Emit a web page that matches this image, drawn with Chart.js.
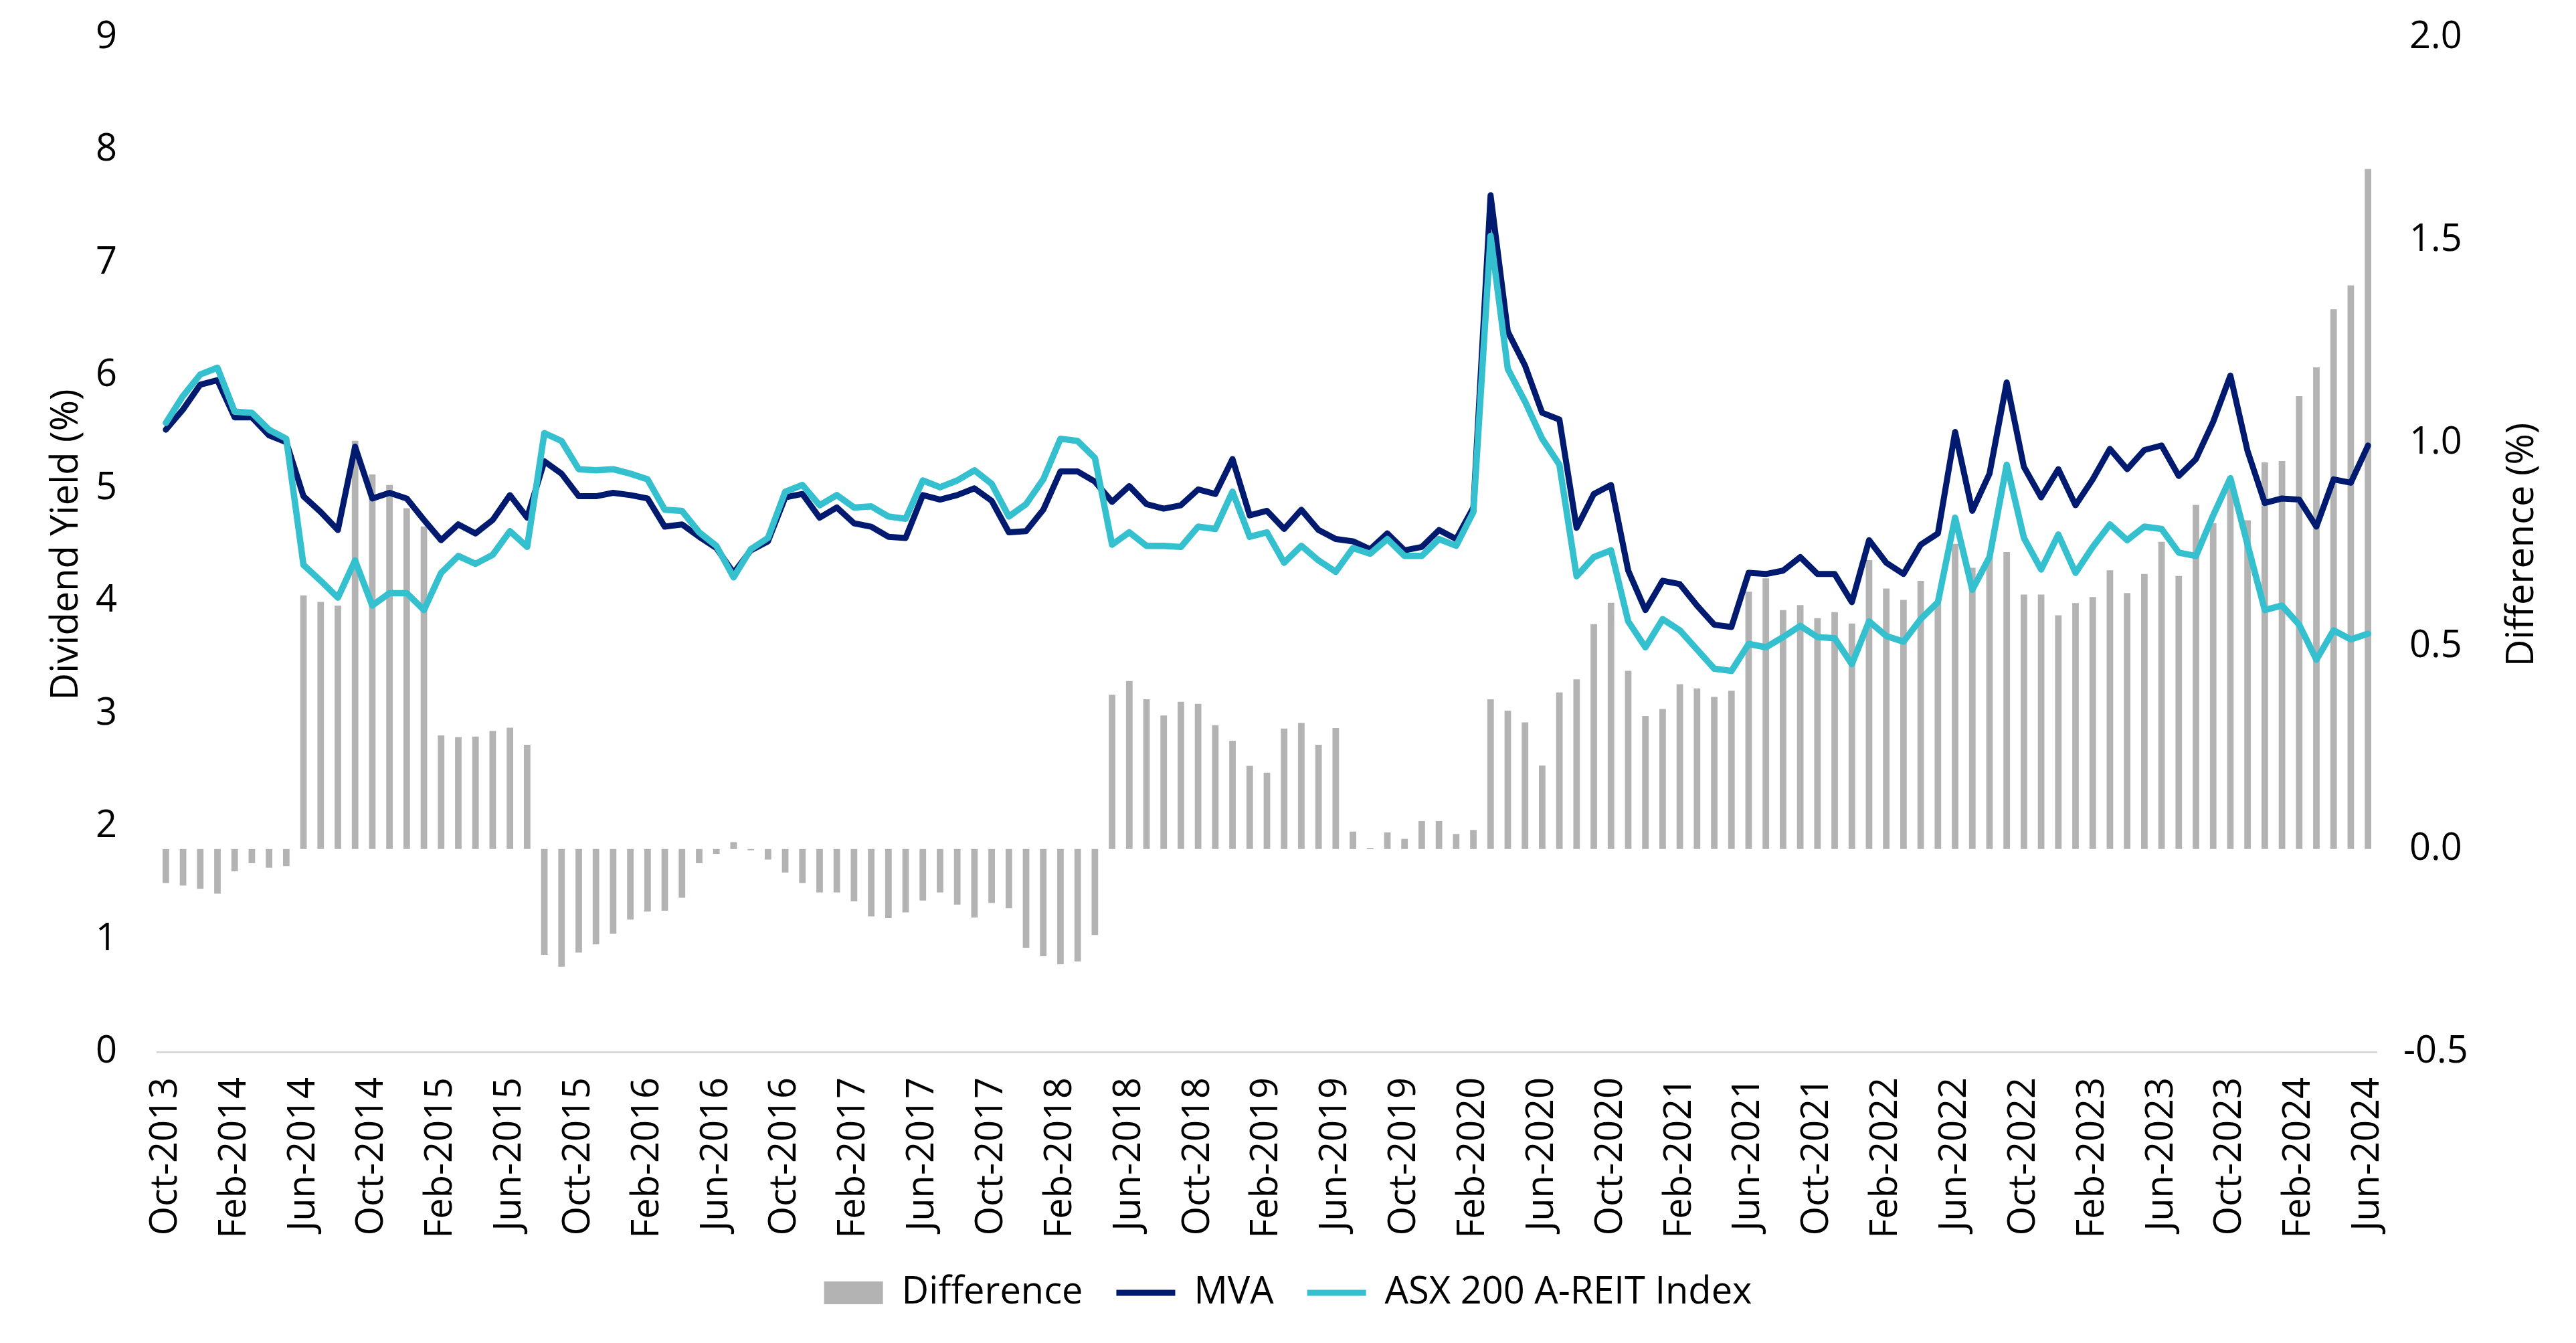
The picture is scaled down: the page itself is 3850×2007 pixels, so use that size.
<!DOCTYPE html>
<html lang="en">

<head>
    <meta charset="UTF-8">
    <title>Dividend yield - MVA vs ASX 200 A-REIT</title>
    <style>
        * {
            margin: 0;
            padding: 0;
        }

        body {
            background: #fff;
        }

        canvas {
            display: block;
        }
    </style>
</head>

<body>
    <canvas id="chart" width="3850" height="2007"></canvas>
    <script src="https://cdn.jsdelivr.net/npm/chart.js@4.4.1/dist/chart.umd.min.js"></script>
    <script>
        // monthly points, Oct-2013 .. Jun-2024
        var months = [
            "Oct-2013", "Nov-2013", "Dec-2013",
            "Jan-2014", "Feb-2014", "Mar-2014", "Apr-2014", "May-2014", "Jun-2014", "Jul-2014", "Aug-2014", "Sep-2014", "Oct-2014", "Nov-2014", "Dec-2014",
            "Jan-2015", "Feb-2015", "Mar-2015", "Apr-2015", "May-2015", "Jun-2015", "Jul-2015", "Aug-2015", "Sep-2015", "Oct-2015", "Nov-2015", "Dec-2015",
            "Jan-2016", "Feb-2016", "Mar-2016", "Apr-2016", "May-2016", "Jun-2016", "Jul-2016", "Aug-2016", "Sep-2016", "Oct-2016", "Nov-2016", "Dec-2016",
            "Jan-2017", "Feb-2017", "Mar-2017", "Apr-2017", "May-2017", "Jun-2017", "Jul-2017", "Aug-2017", "Sep-2017", "Oct-2017", "Nov-2017", "Dec-2017",
            "Jan-2018", "Feb-2018", "Mar-2018", "Apr-2018", "May-2018", "Jun-2018", "Jul-2018", "Aug-2018", "Sep-2018", "Oct-2018", "Nov-2018", "Dec-2018",
            "Jan-2019", "Feb-2019", "Mar-2019", "Apr-2019", "May-2019", "Jun-2019", "Jul-2019", "Aug-2019", "Sep-2019", "Oct-2019", "Nov-2019", "Dec-2019",
            "Jan-2020", "Feb-2020", "Mar-2020", "Apr-2020", "May-2020", "Jun-2020", "Jul-2020", "Aug-2020", "Sep-2020", "Oct-2020", "Nov-2020", "Dec-2020",
            "Jan-2021", "Feb-2021", "Mar-2021", "Apr-2021", "May-2021", "Jun-2021", "Jul-2021", "Aug-2021", "Sep-2021", "Oct-2021", "Nov-2021", "Dec-2021",
            "Jan-2022", "Feb-2022", "Mar-2022", "Apr-2022", "May-2022", "Jun-2022", "Jul-2022", "Aug-2022", "Sep-2022", "Oct-2022", "Nov-2022", "Dec-2022",
            "Jan-2023", "Feb-2023", "Mar-2023", "Apr-2023", "May-2023", "Jun-2023", "Jul-2023", "Aug-2023", "Sep-2023", "Oct-2023", "Nov-2023", "Dec-2023",
            "Jan-2024", "Feb-2024", "Mar-2024", "Apr-2024", "May-2024", "Jun-2024"
        ]
        var labelEvery = 4; // only every 4th month gets a tick label

        // dividend yield (%), left axis
        var mva = [
            5.52, 5.70, 5.92,
            5.96, 5.63, 5.63, 5.47, 5.41, 4.93, 4.79, 4.63, 5.37, 4.91, 4.96, 4.91,
            4.72, 4.54, 4.68, 4.60, 4.72, 4.94, 4.74, 5.24, 5.13, 4.93, 4.93, 4.96,
            4.94, 4.91, 4.66, 4.68, 4.57, 4.47, 4.25, 4.45, 4.53, 4.92, 4.95, 4.74,
            4.83, 4.69, 4.66, 4.57, 4.56, 4.94, 4.90, 4.94, 5.00, 4.89, 4.61, 4.62,
            4.81, 5.15, 5.15, 5.06, 4.88, 5.02, 4.86, 4.82, 4.85, 4.99, 4.95, 5.26,
            4.76, 4.80, 4.64, 4.81, 4.63, 4.55, 4.53, 4.46, 4.60, 4.45, 4.48, 4.63,
            4.55, 4.83, 7.60, 6.39, 6.09, 5.67, 5.61, 4.65, 4.95, 5.03, 4.27, 3.92,
            4.18, 4.15, 3.96, 3.79, 3.77, 4.25, 4.24, 4.27, 4.39, 4.24, 4.24, 3.99,
            4.54, 4.34, 4.24, 4.50, 4.60, 5.50, 4.80, 5.13, 5.94, 5.19, 4.92, 5.17,
            4.85, 5.08, 5.35, 5.17, 5.34, 5.38, 5.11, 5.26, 5.59, 6.00, 5.33, 4.87,
            4.91, 4.90, 4.66, 5.08, 5.05, 5.38
        ]
        var asx = [
            5.58, 5.82, 6.01,
            6.07, 5.68, 5.67, 5.52, 5.44, 4.32, 4.18, 4.03, 4.36, 3.96, 4.07, 4.07,
            3.92, 4.25, 4.40, 4.33, 4.41, 4.62, 4.48, 5.49, 5.42, 5.17, 5.16, 5.17,
            5.13, 5.08, 4.81, 4.80, 4.61, 4.49, 4.21, 4.46, 4.56, 4.97, 5.03, 4.85,
            4.94, 4.83, 4.84, 4.75, 4.73, 5.07, 5.01, 5.07, 5.16, 5.04, 4.75, 4.86,
            5.08, 5.44, 5.42, 5.27, 4.50, 4.61, 4.49, 4.49, 4.48, 4.66, 4.64, 4.97,
            4.57, 4.61, 4.34, 4.49, 4.36, 4.26, 4.47, 4.42, 4.55, 4.40, 4.40, 4.55,
            4.49, 4.79, 7.24, 6.06, 5.77, 5.44, 5.21, 4.22, 4.39, 4.45, 3.82, 3.59,
            3.84, 3.74, 3.57, 3.40, 3.38, 3.62, 3.59, 3.68, 3.78, 3.68, 3.67, 3.44,
            3.82, 3.69, 3.64, 3.84, 3.99, 4.74, 4.10, 4.39, 5.21, 4.56, 4.28, 4.59,
            4.25, 4.48, 4.68, 4.54, 4.66, 4.64, 4.43, 4.40, 4.76, 5.09, 4.50, 3.92,
            3.96, 3.79, 3.48, 3.74, 3.66, 3.71
        ]
        // difference (%), right axis
        var diff = [
            -0.084, -0.090, -0.098,
            -0.110, -0.055, -0.035, -0.046, -0.042, 0.625, 0.609, 0.600, 1.006, 0.923, 0.897, 0.840,
            0.795, 0.280, 0.276, 0.277, 0.291, 0.299, 0.257, -0.261, -0.290, -0.255, -0.235, -0.209,
            -0.174, -0.154, -0.152, -0.120, -0.035, -0.012, 0.017, -0.003, -0.026, -0.058, -0.084, -0.107,
            -0.107, -0.129, -0.166, -0.170, -0.156, -0.127, -0.107, -0.137, -0.169, -0.133, -0.146, -0.244,
            -0.264, -0.284, -0.277, -0.212, 0.380, 0.414, 0.369, 0.329, 0.363, 0.358, 0.305, 0.267,
            0.205, 0.188, 0.297, 0.311, 0.257, 0.298, 0.043, 0.003, 0.041, 0.025, 0.069, 0.069,
            0.037, 0.047, 0.369, 0.341, 0.312, 0.206, 0.386, 0.418, 0.554, 0.607, 0.439, 0.328,
            0.345, 0.406, 0.396, 0.375, 0.390, 0.634, 0.667, 0.589, 0.601, 0.569, 0.584, 0.556,
            0.712, 0.642, 0.614, 0.661, 0.610, 0.752, 0.693, 0.720, 0.732, 0.627, 0.627, 0.576,
            0.606, 0.621, 0.687, 0.631, 0.678, 0.757, 0.673, 0.848, 0.803, 0.910, 0.810, 0.953,
            0.956, 1.116, 1.187, 1.330, 1.389, 1.676
        ]

        var FONT = '"Open Sans"'
        var SIZE = 56

        // right axis title reads bottom-to-top like the left one
        var rightTitle = {
            id: 'rightTitle',
            afterDraw: function (chart) {
                var ctx = chart.ctx
                var area = chart.chartArea
                ctx.save()
                ctx.translate(chart.width - 80, (area.top + area.bottom) / 2)
                ctx.rotate(-Math.PI / 2)
                ctx.font = SIZE + 'px ' + FONT
                ctx.fillStyle = '#000'
                ctx.textAlign = 'center'
                ctx.textBaseline = 'middle'
                ctx.fillText('Difference (%)', 0, 0)
                ctx.restore()
            }
        }

        function desenhar() {
            Chart.defaults.font.family = FONT
            Chart.defaults.font.size = SIZE
            Chart.defaults.color = '#000'

            var ctx = document.getElementById('chart').getContext('2d')
            new Chart(ctx, {
                type: 'bar',
                data: {
                    labels: months,
                    datasets: [{
                        label: 'Difference',
                        data: diff,
                        yAxisID: 'y1',
                        backgroundColor: '#b3b3b3',
                        borderWidth: 0,
                        barPercentage: 0.38,
                        categoryPercentage: 1,
                        order: 3
                    }, {
                        type: 'line',
                        label: 'MVA',
                        data: mva,
                        yAxisID: 'y',
                        borderColor: '#001a70',
                        backgroundColor: '#001a70',
                        borderWidth: 9,
                        borderJoinStyle: 'round',
                        borderCapStyle: 'round',
                        pointRadius: 0,
                        tension: 0,
                        order: 2
                    }, {
                        type: 'line',
                        label: 'ASX 200 A-REIT Index',
                        data: asx,
                        yAxisID: 'y',
                        borderColor: '#35c0cf',
                        backgroundColor: '#35c0cf',
                        borderWidth: 9.5,
                        borderJoinStyle: 'round',
                        borderCapStyle: 'round',
                        pointRadius: 0,
                        tension: 0,
                        order: 1
                    }]
                },
                options: {
                    responsive: false,
                    animation: false,
                    devicePixelRatio: 1,
                    layout: { padding: { top: 56, left: 0, right: 0, bottom: 37 } },
                    scales: {
                        x: {
                            offset: true,
                            grid: { display: false, drawTicks: false },
                            border: { display: true, color: '#d9d9d9', width: 3 },
                            ticks: {
                                autoSkip: false,
                                maxRotation: 90,
                                minRotation: 90,
                                padding: 38,
                                callback: function (v, i) {
                                    return i % labelEvery === 0 ? months[i] : ''
                                }
                            },
                            afterFit: function (s) { s.height = 282 }
                        },
                        y: {
                            position: 'left',
                            min: 0,
                            max: 9,
                            // tick marks hidden, tickLength only spaces the labels
                            grid: { display: false, drawTicks: true, tickLength: 60 },
                            border: { display: false },
                            ticks: { stepSize: 1, padding: 0 },
                            title: {
                                display: true,
                                text: 'Dividend Yield (%)',
                                padding: { top: 66, bottom: 0 }
                            },
                            afterFit: function (s) { s.width = 235 }
                        },
                        y1: {
                            position: 'right',
                            min: -0.5,
                            max: 2.0,
                            grid: { display: false, drawTicks: true, tickLength: 40 },
                            border: { display: false },
                            ticks: {
                                stepSize: 0.5,
                                padding: 0,
                                crossAlign: 'center',
                                callback: function (v) { return v.toFixed(1) }
                            },
                            afterFit: function (s) { s.width = 298 }
                        }
                    },
                    plugins: {
                        tooltip: { enabled: false },
                        legend: {
                            position: 'bottom',
                            labels: {
                                usePointStyle: true,
                                pointStyleWidth: 88,
                                boxHeight: 34,
                                padding: 50,
                                font: { size: SIZE },
                                sort: function (a, b) { return a.datasetIndex - b.datasetIndex },
                                generateLabels: function (chart) {
                                    var items = Chart.defaults.plugins.legend.labels.generateLabels(chart)
                                    items.forEach(function (it) {
                                        if (it.datasetIndex === 0) {
                                            it.pointStyle = 'rect'
                                            it.lineWidth = 0
                                        } else {
                                            it.pointStyle = 'line'
                                            it.lineWidth = 9
                                        }
                                    })
                                    return items
                                }
                            }
                        }
                    }
                },
                plugins: [rightTitle]
            })
        }

        document.fonts.load(SIZE + 'px ' + FONT).then(desenhar, desenhar)
    </script>
</body>

</html>
